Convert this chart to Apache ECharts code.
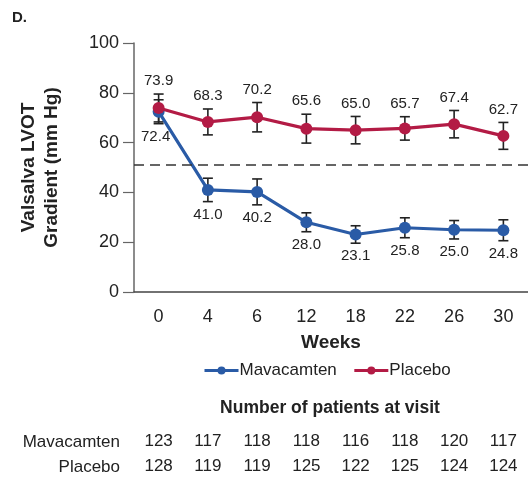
<!DOCTYPE html>
<html>
<head>
<meta charset="utf-8">
<script src="https://cdn.jsdelivr.net/npm/echarts@6/dist/echarts.min.js"></script>
<style>html,body{margin:0;padding:0;background:#fff;}#c{width:528px;height:480px;}</style>
</head>
<body>
<div id="c"></div>
<script>
const weeks = ['0', '4', '6', '12', '18', '22', '26', '30'];
const mavaMean = [72.4, 41.0, 40.2, 28.0, 23.1, 25.8, 25.0, 24.8];
const mavaErr = [4.8, 4.7, 5.2, 3.8, 3.5, 4.0, 3.7, 4.2];
const placeboMean = [73.9, 68.3, 70.2, 65.6, 65.0, 65.7, 67.4, 62.7];
const placeboErr = [5.6, 5.2, 5.9, 5.8, 5.5, 4.7, 5.5, 5.4];
const mavaN = [123, 117, 118, 118, 116, 118, 120, 117];
const placeboN = [128, 119, 119, 125, 122, 125, 124, 124];
const threshold = 51;

const BLUE = '#2a5ba6';
const RED = '#b31b45';
const FONT = '"Liberation Sans", Arial, sans-serif';
const TXT = '#222';

function errItem(means, errs) {
  return means.map((m, i) => [i, m, errs[i]]);
}
function errRender(labelAbove) {
  return function (params, api) {
    const x = api.value(0), m = api.value(1), e = api.value(2);
    const t = api.coord([x, m + e]);
    const b = api.coord([x, m - e]);
    const hw = 5;
    const st = { stroke: '#222', lineWidth: 1.6 };
    const ly = labelAbove ? t[1] - 13 : b[1] + 13;
    return {
      type: 'group',
      children: [
        { type: 'line', shape: { x1: t[0], y1: t[1], x2: b[0], y2: b[1] }, style: st },
        { type: 'line', shape: { x1: t[0] - hw, y1: t[1], x2: t[0] + hw, y2: t[1] }, style: st },
        { type: 'line', shape: { x1: b[0] - hw, y1: b[1], x2: b[0] + hw, y2: b[1] }, style: st },
        { type: 'text', style: { x: t[0] - (x === 0 && !labelAbove ? 3 : 0), y: ly, text: m.toFixed(1), fill: TXT,
          font: '15px ' + FONT, textAlign: 'center', textVerticalAlign: 'middle' } }
      ]
    };
  };
}

const chart = echarts.init(document.getElementById('c'), null, { renderer: 'canvas' });
const countAxis = (arr, offset) => ({
  type: 'category', data: weeks, position: 'bottom', offset: offset,
  axisLine: { show: false }, axisTick: { show: false }, splitLine: { show: false },
  axisLabel: { margin: 8, fontSize: 17, color: TXT, fontFamily: FONT,
    formatter: (v, i) => String(arr[i]) }
});
chart.setOption({
  animation: false,
  textStyle: { fontFamily: FONT },
  grid: { left: 134, top: 43, width: 396, height: 249, containLabel: false },
  xAxis: [
    {
      type: 'category', data: weeks, boundaryGap: true,
      name: 'Weeks', nameLocation: 'middle', nameGap: 41,
      nameTextStyle: { fontSize: 19, fontWeight: 'bold', color: TXT, fontFamily: FONT },
      axisLine: { lineStyle: { color: '#444', width: 1.5 } },
      axisTick: { alignWithLabel: true, length: 9, lineStyle: { color: '#444', width: 1.2 } },
      axisLabel: { margin: 16, fontSize: 18, color: TXT, fontFamily: FONT },
      splitLine: { show: false }
    },
    countAxis(mavaN, 133),
    countAxis(placeboN, 158)
  ],
  yAxis: {
    type: 'value', min: 0, max: 100, interval: 20,
    name: 'Valsalva LVOT\nGradient (mm Hg)', nameLocation: 'middle', nameGap: 71,
    nameTextStyle: { fontSize: 19, fontWeight: 'bold', color: TXT, fontFamily: FONT, lineHeight: 23 },
    axisLine: { show: true, lineStyle: { color: '#666', width: 1.5 } },
    axisTick: { show: true, length: 11, lineStyle: { color: '#666', width: 1.2 } },
    axisLabel: { margin: 15, fontSize: 18, color: TXT, fontFamily: FONT },
    splitLine: { show: false }
  },
  legend: {
    top: 357, left: 198, itemWidth: 34, itemHeight: 10, itemGap: 16,
    lineStyle: { width: 3 },
    textStyle: { fontSize: 17, color: TXT, fontFamily: FONT, padding: [0, 0, 0, -4] },
    data: ['Mavacamten', 'Placebo']
  },
  graphic: [
    { type: 'text', left: 12, top: 10, style: { text: 'D.', font: 'bold 15px ' + FONT, fill: TXT } },
    { type: 'text', x: 330, y: 408, style: { text: 'Number of patients at visit', font: 'bold 17.5px ' + FONT,
      fill: TXT, textAlign: 'center', textVerticalAlign: 'middle' } },
    { type: 'text', x: 120, y: 442, style: { text: 'Mavacamten', font: '17px ' + FONT,
      fill: TXT, textAlign: 'right', textVerticalAlign: 'middle' } },
    { type: 'text', x: 120, y: 467, style: { text: 'Placebo', font: '17px ' + FONT,
      fill: TXT, textAlign: 'right', textVerticalAlign: 'middle' } }
  ],
  series: [
    {
      type: 'custom', name: 'mavaErr', renderItem: errRender(false), data: errItem(mavaMean, mavaErr), z: 1,
      silent: true
    },
    {
      type: 'custom', name: 'placeboErr', renderItem: errRender(true), data: errItem(placeboMean, placeboErr), z: 1,
      silent: true
    },
    {
      type: 'line', name: 'Mavacamten', data: mavaMean, symbol: 'circle', symbolSize: 12, z: 3,
      lineStyle: { color: BLUE, width: 3.2 }, itemStyle: { color: BLUE },
      markLine: {
        silent: true, symbol: 'none', label: { show: false },
        lineStyle: { color: '#333', type: [10, 6], width: 1.5 },
        data: [{ yAxis: threshold }]
      }
    },
    {
      type: 'line', name: 'Placebo', data: placeboMean, symbol: 'circle', symbolSize: 12, z: 4,
      lineStyle: { color: RED, width: 3.2 }, itemStyle: { color: RED }
    }
  ]
});
</script>
</body>
</html>
